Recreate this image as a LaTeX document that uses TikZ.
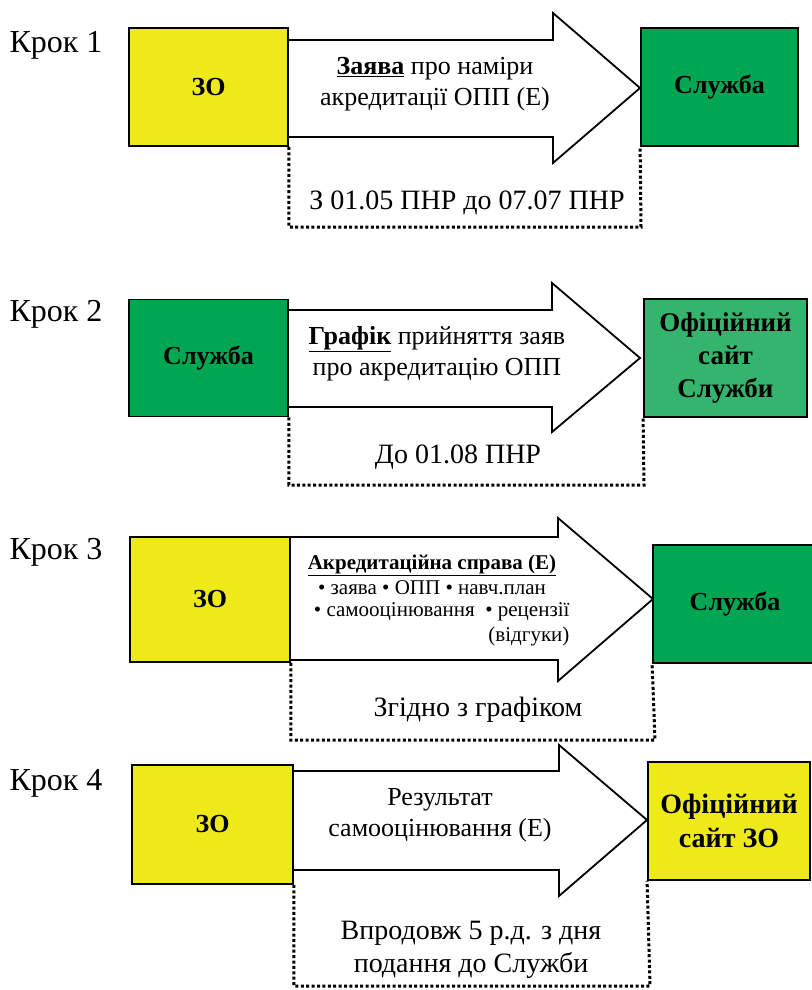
\documentclass[tikz,border=0pt]{standalone}
\usepackage{fontspec}
\setmainfont{Liberation Serif}
\definecolor{zoyellow}{RGB}{238,234,26}
\definecolor{slgreen}{RGB}{0,166,81}
\definecolor{sitegreen}{RGB}{52,180,108}

\begin{document}
\begin{tikzpicture}
    [
        x=1pt, y=-1pt,
        step_label/.style={anchor=west, font=\fontsize{32}{38}\selectfont},
        zo_box/.style={rectangle, draw=black, fill=zoyellow, line width=1.8pt, align=center, font=\bfseries\fontsize{26}{32}\selectfont},
        sl_box/.style={zo_box, fill=slgreen},
        big_arrow/.style={draw=black, fill=white, line width=1.8pt, line join=miter},
        arrow_text/.style={align=center, font=\fontsize{26}{31}\selectfont},
        term_text/.style={align=center, font=\fontsize{28}{33}\selectfont},
        term_line/.style={line width=3pt, dash pattern=on 3pt off 2.4pt},
    ]
        \useasboundingbox (0,0) rectangle (811,990);
        % Крок 1
        \draw[big_arrow] (288,40) -- (553,40) -- (553,13) -- (640,88) -- (553,163) -- (553,137) -- (288,137) -- cycle;
        \node[step_label] (k1) at (6,45) {Крок 1};
        \node[zo_box, minimum width=159pt, minimum height=118pt] (zo1) at (208.5,87) {ЗО};
        \node[sl_box, minimum width=157pt, minimum height=118pt] (sl1) at (719.5,87) {Служба};
        \node[arrow_text] (msg1) at (435,84) {\underline{\textbf{Заява}} про наміри\\акредитації ОПП (Е)};
        \coordinate (t1) at (641,227);
        \draw[term_line] (zo1.south east) |- (t1) -- (sl1.south west);
        \node[term_text] (term1) at (467,203) {З 01.05 ПНР до 07.07 ПНР};
        % Крок 2
        \draw[big_arrow] (288,310) -- (552,310) -- (552,283) -- (640,358) -- (552,432) -- (552,407) -- (288,407) -- cycle;
        \node[step_label] (k2) at (6,314) {Крок 2};
        \node[sl_box, minimum width=159pt, minimum height=117pt] (sl2) at (208.5,358) {Служба};
        \node[sl_box, fill=sitegreen, minimum width=163pt, minimum height=118pt, font=\bfseries\fontsize{27}{33}\selectfont] (site2) at (725.5,358) {Офіційний\\сайт\\Служби};
        \node[arrow_text] (msg2) at (437,354) {\underline{\textbf{Графік}} прийняття заяв\\про акредитацію ОПП};
        \coordinate (t2) at (644,485);
        \draw[term_line] (sl2.south east) |- (t2) -- (site2.south west);
        \node[term_text] (term2) at (458,457) {До 01.08 ПНР};
        % Крок 3
        \draw[big_arrow] (290,537) -- (558,537) -- (558,518) -- (653,599) -- (558,681) -- (558,660) -- (290,660) -- cycle;
        \node[step_label] (k3) at (6,552) {Крок 3};
        \node[zo_box, minimum width=160pt, minimum height=125pt] (zo3) at (210,599.5) {ЗО};
        \node[sl_box, minimum width=164pt, minimum height=118pt] (sl3) at (735,604) {Служба};
        \node[arrow_text, font=\fontsize{21}{25}\selectfont] (msg3) at (432,575) {\underline{\textbf{Акредитаційна справа (Е)}}\\• заява • ОПП • навч.план};
        \node[arrow_text, font=\fontsize{21}{25}\selectfont, anchor=north east, align=right] (msg3b) at (573,599) {• самооцінювання \ • рецензії\\(відгуки)};
        \coordinate (t3) at (655,740);
        \draw[term_line] (zo3.south east) |- (t3) -- (sl3.south west);
        \node[term_text] (term3) at (478,710) {Згідно з графіком};
        % Крок 4
        \draw[big_arrow] (293,771) -- (559,771) -- (559,745) -- (647,820) -- (559,896) -- (559,870) -- (293,870) -- cycle;
        \node[step_label] (k4) at (6,783) {Крок 4};
        \node[zo_box, minimum width=161pt, minimum height=119pt] (zo4) at (212.5,824.5) {ЗО};
        \node[zo_box, minimum width=162pt, minimum height=118pt, font=\bfseries\fontsize{28}{34}\selectfont] (site4) at (729,821) {Офіційний\\сайт ЗО};
        \node[arrow_text] (msg4) at (440,815) {Результат\\самооцінювання (Е)};
        \coordinate (t4) at (650,986);
        \draw[term_line] (zo4.south east) |- (t4) -- (site4.south west);
        \node[term_text] (term4) at (471,950) {Впродовж 5 р.д. з дня\\подання до Служби};
\end{tikzpicture}
\end{document}
